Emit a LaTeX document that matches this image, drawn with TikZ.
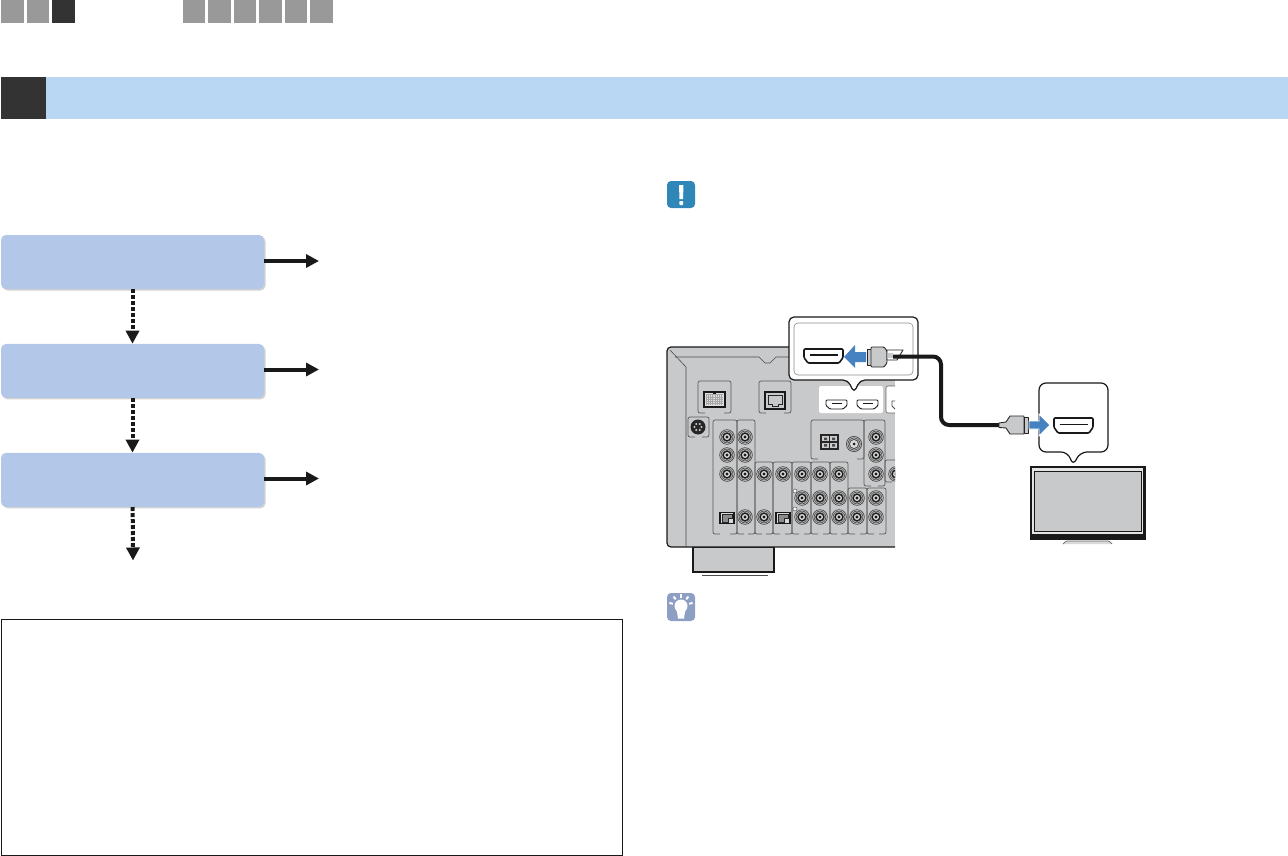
\documentclass[tikz,border=0pt]{standalone}
\usetikzlibrary{positioning, arrows.meta, shadows}

\definecolor{stepblue}{HTML}{B3C7E8}
\definecolor{bandblue}{HTML}{B9D7F2}
\definecolor{tabgray}{HTML}{999999}
\definecolor{tabdark}{HTML}{333333}
\definecolor{bodygray}{HTML}{C8C9CA}
\definecolor{arrowblue}{HTML}{4682C2}
\definecolor{noteblue}{HTML}{2F87B8}
\definecolor{hintblue}{HTML}{8E9FC4}

\tikzset{
  stepbox/.style={rectangle, rounded corners=5pt, fill=stepblue, minimum width=263pt,
    minimum height=54pt, inner sep=0pt, drop shadow={shadow xshift=1.5pt, shadow yshift=-1.5pt, fill=black!18, opacity=1}},
  goarrow/.style={-{Triangle[length=13pt, width=13pt]}, line width=4pt, color=black!90},
  nextarrow/.style={goarrow, dash pattern=on 4pt off 2pt},
  panelline/.style={draw=black!65, line width=0.7pt, rounded corners=2pt},
  callout/.style={draw=black!90, fill=white, line width=1.2pt, rounded corners=5pt},
  plug/.style={draw=black!85, fill=bodygray, line width=0.9pt, line join=round},
  cable/.style={draw=black!90, line width=4pt, rounded corners=8pt},
}

% rca jack at x, y
\newcommand{\rcajack}[2]{
  \fill[black!72] (#1,#2) circle (7.7pt);
  \draw[black!22, line width=0.55pt] (#1,#2) circle (6.6pt) (#1,#2) circle (5.3pt);
  \fill[black!90] (#1,#2) circle (4.2pt);
  \fill[black!15] (#1,#2) circle (3pt);
  \fill[black!90] (#1,#2) circle (1.7pt);
}
% optical port at x, y
\newcommand{\optport}[2]{
  \draw[black!90, fill=bodygray!70, line width=1.1pt] (#1-7,#2-5.5) rectangle (#1+7,#2+5.5);
  \draw[black!85, fill=black!45, line width=0.6pt] (#1-5,#2-3.5) -- (#1+5,#2-3.5) -- (#1+5,#2+0.5)
    -- (#1+1,#2+0.5) -- (#1+1,#2+4) -- (#1-5,#2+4) -- cycle;
}
% open panel: x1, y1, x2, y2
\newcommand{\panel}[4]{
  \draw[panelline] (#1+7,#4) -- (#1,#4) -- (#1,#2) -- (#3,#2) -- (#3,#4) -- (#3-7,#4);
}
% hdmi port: line width, x1, y1, x2, y2
\newcommand{\hdmiport}[5]{
  \draw[black!90, fill=white, line width=#1, rounded corners=1pt, line join=round]
    (#2,#3) -- (#4,#3) -- (#4,{#3+0.62*(#5-#3)}) -- (#4-4,#5) -- (#2+4,#5)
    -- (#2,{#3+0.62*(#5-#3)}) -- cycle;
  \draw[black!90, line width=#1] (#2+5.5,{#3+0.42*(#5-#3)}) -- (#4-5.5,{#3+0.42*(#5-#3)});
}

\begin{document}
\begin{tikzpicture}[x=1pt, y=-1pt, node distance=54.5pt]
  \useasboundingbox (0,0) rectangle (1288,856);

  % tabs
  \foreach \tx/\tw in {1/23, 27/22, 183/22, 208/23, 234/22, 259/23, 285/22, 310/23}
    \fill[tabgray] (\tx,0) rectangle (\tx+\tw,23);
  \fill[tabdark] (52,0) rectangle (75,23);

  % header band
  \fill[tabdark] (1,77) rectangle (46,119);
  \fill[bandblue] (46,77) rectangle (1288,119);

  % flow
  \node[stepbox] (step1) at (132.5,262) {};
  \node[stepbox, below=of step1] (step2) {};
  \node[stepbox, below=of step2] (step3) {};
  \coordinate (out1) at (319,261);
  \coordinate (out2) at (319,369.5);
  \coordinate (out3) at (319,478.5);
  \coordinate (next) at (133,560.5);

  \draw[goarrow] (step1.east |- out1) -- (out1);
  \draw[goarrow] (step2.east |- out2) -- (out2);
  \draw[goarrow] (step3.east |- out3) -- (out3);
  \draw[nextarrow] (step1) -- (step2);
  \draw[nextarrow] (step2) -- (step3);
  \draw[nextarrow] (step3) -- (next);

  % note box
  \draw[black!90, line width=1pt] (1,619) rectangle (622,855);

  % note icon
  \fill[noteblue, rounded corners=4pt] (667,181) rectangle (695,208);
  \fill[white] (679,185) -- (683.5,185) -- (683,199) -- (679.5,199) -- cycle;
  \fill[white, rounded corners=0.8pt] (679.3,201) rectangle (683.2,205);

  % hint icon
  \fill[hintblue, rounded corners=4pt] (667,593) rectangle (695,621);
  \fill[white] (681,606) circle (6.5pt);
  \fill[white] (676.5,609) -- (685.5,609) -- (684,618.5) -- (678,618.5) -- cycle;
  \foreach \ang in {15,52,90,128,165}
    \draw[white, line width=2pt] ([shift={(\ang:8.5pt)}]681,606) -- ([shift={(\ang:12pt)}]681,606);

  % receiver foot
  \draw[black!90, fill=bodygray, line width=1.2pt] (693,547) rectangle (774,572);
  \draw[black!70, line width=0.8pt] (702,575) -- (768,575);

  % receiver body
  \fill[bodygray, rounded corners=4pt] (667,347) rectangle (905,547);
  \fill[white] (895,340) rectangle (910,550);
  \draw[black!90, line width=1.2pt, rounded corners=4pt] (895,547) -- (667,547) -- (667,347) -- (895,347);
  \draw[black!70, line width=0.6pt] (675,357) -- (759,357) -- (765,363) -- (770,363) -- (776,357) -- (895,357);
  \draw[black!70, line width=0.6pt] (670,350) -- (686,367) -- (686,547);

  \begin{scope}
    \clip (667,347) rectangle (895,548);
    % panels
    \panel{698}{381}{731}{413}
    \panel{759}{381}{791}{413}
    \panel{688}{417}{709}{437}
    \panel{713}{420}{737}{534}
    \panel{737}{420}{755}{534}
    \panel{755}{462}{773}{534}
    \panel{773}{462}{792}{534}
    \panel{792}{462}{811}{534}
    \panel{811}{462}{830}{534}
    \panel{830}{462}{848}{534}
    \panel{848}{488}{867}{534}
    \panel{867}{488}{886}{534}
    \panel{811}{420}{864}{459}
    \panel{864}{420}{885}{486}
    \panel{885}{460}{905}{482}
    \fill[white, rounded corners=2pt] (819,386) rectangle (883,413);
    \fill[white, rounded corners=2pt] (886,386) rectangle (905,413);
    \draw[black!60, line width=0.6pt, rounded corners=2pt] (886,386) rectangle (905,413);
    \draw[black!70, line width=0.8pt] (895,401) -- (892,401) -- (892,406) -- (895,409);
    \hdmiport{0.9pt}{826}{400}{847}{409}
    \hdmiport{0.9pt}{857}{400}{878}{409}

    % jacks
    \foreach \cx/\rows in {727/{437,455,474}, 745/{437,455,474,517}, 764/{474,517}, 783/{474},
        802/{474,498,517}, 820/{474,498,517}, 839/{474,498,517}, 857/{498,517},
        876/{437,455,474,498,517}, 896/{474}}
      \foreach \cy in \rows
        \rcajack{\cx}{\cy};
    \optport{727}{518}
    \optport{783}{518}
    \foreach \cy in {491,509}
      \draw[black!70, fill=white, line width=0.5pt] (795,\cy) circle (2pt);
  \end{scope}

  % multi pin connector
  \draw[black!90, fill=black!12, line width=1.3pt] (704,392) rectangle (725,407);
  \draw[black!35, line width=0.4pt, step=2.2pt, shift={(706,394.5)}] (0,0) grid (17,10);
  \fill[black!90] (713,392) rectangle (716,394);
  % lan port
  \draw[black!90, line width=1.1pt] (765,392) rectangle (785,409);
  \draw[black!85, line width=0.8pt] (768,395) -- (782,395) -- (782,404) -- (778,404) -- (778,406)
    -- (772,406) -- (772,404) -- (768,404) -- cycle;
  % round socket
  \fill[black!85] (698,427) circle (7.5pt);
  \foreach \ang in {0,60,...,300}
    \fill[black!20] ([shift={(\ang:3.5pt)}]698,427) circle (1.1pt);
  % speaker terminal
  \draw[black!85, fill=black!20, line width=1.1pt] (821,435) rectangle (838,449);
  \draw[black!85, line width=1.1pt] (829.5,435) -- (829.5,449) (821,442) -- (838,442);
  \fill[black!70] (824,437.5) rectangle (827,440) (832,437.5) rectangle (835,440)
    (824,444) rectangle (827,446.5) (832,444) rectangle (835,446.5);
  % coax
  \fill[black!70] (854,444) circle (8pt);
  \draw[black!22, line width=0.55pt] (854,444) circle (6.8pt) (854,444) circle (5.5pt);
  \fill[black!15] (854,444) circle (4pt);
  \fill[black!90] (854,444) circle (1.5pt);

  % callout at receiver
  \draw[callout] (789,317) -- (918,317) -- (918,380) -- (860,380) -- (854,393) -- (848,380) -- (789,380) -- cycle;
  \draw[black!45, line width=0.6pt, rounded corners=4pt] (794,323) rectangle (913,375);
  \hdmiport{1.6pt}{804}{349}{843}{363}
  \fill[arrowblue] (844,357) -- (855,345) -- (855,352) -- (866,352) -- (866,362) -- (855,362) -- (855,368) -- cycle;

  % callout at tv
  \draw[callout, rounded corners=7pt] (1039,383) -- (1108,383) -- (1108,452) -- (1080,452) -- (1073,466) -- (1068,452) -- (1039,452) -- cycle;
  \hdmiport{1.6pt}{1054}{418}{1093}{433}

  % plug at receiver
  \draw[plug] (867,349) rectangle (871,365);
  \draw[plug, rounded corners=1pt] (871,347) -- (884,347) -- (887,351) -- (887,363) -- (884,367) -- (871,367) -- cycle;
  \draw[plug, fill=white] (887,350) -- (903,350) -- (897,360) -- (887,360) -- cycle;
  \fill[bodygray] (888,353) rectangle (893,358);

  % cable
  \coordinate (plugleft) at (893,356.5);
  \coordinate (plugright) at (1000,425);
  \draw[cable] (plugleft) -- (941,356.5) -- (941,425) -- (plugright);

  % plug at tv
  \draw[plug] (1006,422) -- (999,423) -- (999,427.5) -- (1006,428) -- (1010,434) -- (1024,434) -- (1024,416) -- (1010,416) -- cycle;
  \draw[plug] (1024,417) rectangle (1028,433);
  \draw[white, fill=arrowblue, line width=0.8pt] (1029,421) -- (1039,421) -- (1039,414) -- (1050,425) -- (1039,436) -- (1039,429) -- (1029,429) -- cycle;

  % tv
  \draw[black!90, fill=bodygray!50, line width=2.4pt] (1031,467) rectangle (1144.5,538.5);
  \draw[black!90, fill=bodygray, line width=0.8pt] (1034,471) rectangle (1141,531);
  \fill[black!90] (1031,533.5) rectangle (1144.5,538.5);
  \draw[black!60, fill=black!15, line width=0.7pt, rounded corners=1pt] (1063,544) -- (1066,541) -- (1109,541) -- (1112,544);
\end{tikzpicture}
\end{document}
